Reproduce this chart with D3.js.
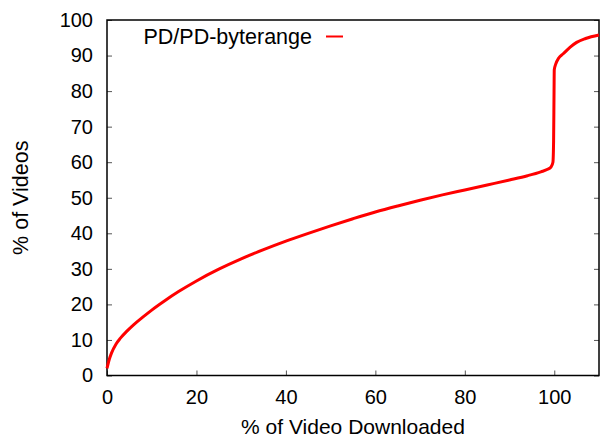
<!DOCTYPE html>
<html>
<head>
<meta charset="utf-8">
<script src="https://cdn.jsdelivr.net/npm/d3@7"></script>
<style>
  body { margin: 0; background: #fff; }
  svg { display: block; font-family: "Liberation Sans", Arial, Helvetica, sans-serif; }
</style>
</head>
<body>
<div id="chart"></div>
<script>
const width = 600;
const height = 439;

// % of video downloaded vs. cumulative % of videos
const downloaded = [0, 0.5, 1, 2, 3, 4.4, 6, 8, 10, 13, 16, 20, 25, 30, 35, 40, 45, 50, 55, 60,
  65, 70, 75, 80, 85, 90, 94, 97, 98.5, 99.3, 99.7, 99.85, 99.95, 100, 100.3, 101, 102, 103.5,
  105, 107, 110];
const videos = [2, 4.5, 6.3, 8.8, 10.5, 12.4, 14.3, 16.4, 18.4, 21.1, 23.6, 26.6, 29.9, 32.8, 35.4,
  37.8, 40.0, 42.1, 44.1, 46.0, 47.7, 49.3, 50.8, 52.2, 53.6, 55.0, 56.2, 57.3, 58.0, 58.7, 60,
  66, 80, 86, 87.5, 89.3, 90.5, 92.3, 93.7, 94.8, 95.8];

const seriesName = "PD/PD-byterange";
const xTicks = [0, 20, 40, 60, 80, 100];
const yTicks = [0, 10, 20, 30, 40, 50, 60, 70, 80, 90, 100];

const margin = {top: 20, left: 107, bottom: 63.5, right: 1};

const x = d3.scaleLinear()
  .domain([0, 110])
  .range([margin.left, width - margin.right]);

const y = d3.scaleLinear()
  .domain([0, 100])
  .range([height - margin.bottom, margin.top]);

const svg = d3.select("#chart").append("svg")
  .attr("width", width)
  .attr("height", height)
  .attr("viewBox", [0, 0, width, height]);

// x axis
svg.append("g")
  .attr("transform", `translate(0, ${y(0)})`)
  .call(d3.axisBottom(x).tickValues(xTicks).tickSize(-5).tickPadding(14).tickFormat(d3.format("d")))
  .call(g => g.select(".domain").remove())
  .call(g => g.selectAll(".tick line").attr("stroke", "#555"))
  .call(g => g.selectAll(".tick text").style("font-size", "20px").attr("fill", "#000"));

// y axis
svg.append("g")
  .attr("transform", `translate(${x(0)}, 0)`)
  .call(d3.axisLeft(y).tickValues(yTicks).tickSize(-5).tickPadding(14).tickFormat(d3.format("d")))
  .call(g => g.select(".domain").remove())
  .call(g => g.selectAll(".tick line").attr("stroke", "#555"))
  .call(g => g.selectAll(".tick text").style("font-size", "20px").attr("fill", "#000"));

// right mirror ticks
svg.append("g")
  .attr("transform", `translate(${x(110)}, 0)`)
  .call(d3.axisRight(y).tickValues(yTicks).tickSize(-5).tickFormat(""))
  .call(g => g.select(".domain").remove())
  .call(g => g.selectAll(".tick line").attr("stroke", "#555"));

// frame
svg.append("rect")
  .attr("x", x(0))
  .attr("y", y(100))
  .attr("width", x(110) - x(0))
  .attr("height", y(0) - y(100))
  .attr("fill", "none")
  .attr("stroke", "#000")
  .attr("stroke-width", 1.5);

// curve
const points = downloaded.map((d, i) => [d, videos[i]]);
svg.append("path")
  .datum(points)
  .attr("fill", "none")
  .attr("stroke", "#ff0000")
  .attr("stroke-width", 3)
  .attr("stroke-linejoin", "round")
  .attr("d", d3.line()
    .curve(d3.curveMonotoneX)
    .x(d => x(d[0]))
    .y(d => y(d[1])));

// legend
svg.append("text")
  .attr("x", 312)
  .attr("y", 43.5)
  .attr("text-anchor", "end")
  .style("font-size", "21.5px")
  .text(seriesName);

svg.append("line")
  .attr("x1", 326).attr("x2", 343)
  .attr("y1", 36.5).attr("y2", 36.5)
  .attr("stroke", "#ff0000")
  .attr("stroke-width", 2);

// axis labels
svg.append("text")
  .attr("x", (x(0) + x(110)) / 2)
  .attr("y", 434)
  .attr("text-anchor", "middle")
  .style("font-size", "21px")
  .text("% of Video Downloaded");

svg.append("text")
  .attr("transform", `translate(28, ${y(50)}) rotate(-90)`)
  .attr("text-anchor", "middle")
  .style("font-size", "21.5px")
  .text("% of Videos");
</script>
</body>
</html>
